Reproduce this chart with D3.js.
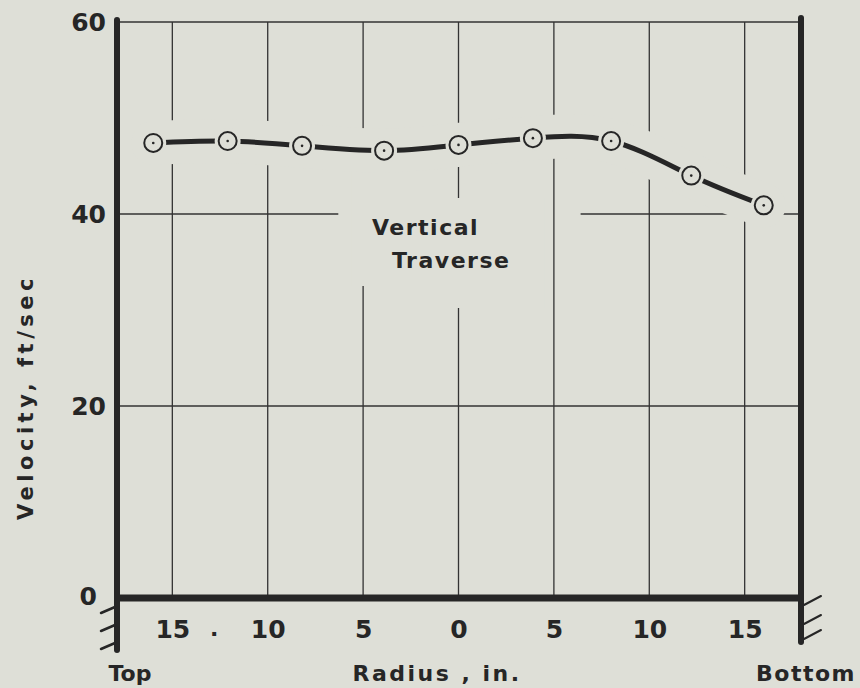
<!DOCTYPE html>
<html>
<head>
<meta charset="utf-8">
<script src="https://cdn.jsdelivr.net/npm/d3@7"></script>
<style>
  body { margin: 0; background: #dedfd7; }
  svg { display: block; }
  text { font-family: "DejaVu Sans", sans-serif; font-weight: bold; fill: #262626; }
</style>
</head>
<body>
<script>
// radius (in.), negative = toward top, positive = toward bottom
var radius = [-16, -12.1, -8.2, -3.9, 0, 3.9, 8, 12.2, 16];
var velocity = [47.4, 47.6, 47.1, 46.6, 47.2, 47.9, 47.6, 44.0, 40.9];
var xTicks = [-15, -10, -5, 0, 5, 10, 15];
var yTicks = [0, 20, 40, 60];

var W = 860, H = 688;
var bg = "#dedfd7", ink = "#262626";
var plotL = 117, plotR = 800, plotT = 22, plotB = 598;

var x = d3.scaleLinear().domain([-17.9, 17.9]).range([plotL, plotR]);
var y = d3.scaleLinear().domain([0, 60]).range([plotB, plotT]);

var svg = d3.select("body").append("svg")
    .attr("width", W)
    .attr("height", H);

// horizontal grid
svg.append("g")
    .selectAll("line")
    .data([20, 40])
    .enter().append("line")
    .attr("x1", plotL).attr("x2", plotR)
    .attr("y1", function (d) { return y(d); })
    .attr("y2", function (d) { return y(d); })
    .attr("stroke", "#333").attr("stroke-width", 1.3);

// gap in the 40 line round the label
svg.append("rect")
    .attr("x", x(-6.3)).attr("width", x(6.4) - x(-6.3))
    .attr("y", y(40) - 4).attr("height", 8)
    .attr("fill", bg);

// vertical grid
svg.append("g")
    .selectAll("line")
    .data(xTicks)
    .enter().append("line")
    .attr("x1", function (d) { return x(d); })
    .attr("x2", function (d) { return x(d); })
    .attr("y1", plotT).attr("y2", plotB)
    .attr("stroke", "#333").attr("stroke-width", 1.3);

// blank paper behind the label
svg.append("rect")
    .attr("x", x(-5.6)).attr("width", x(-4.2) - x(-5.6))
    .attr("y", 165).attr("height", 121)
    .attr("fill", bg);
svg.append("rect")
    .attr("x", x(-4.2)).attr("width", x(4.5) - x(-4.2))
    .attr("y", 198).attr("height", 110)
    .attr("fill", bg);

var line = d3.line()
    .x(function (d, i) { return x(radius[i]); })
    .y(function (d) { return y(d); })
    .curve(d3.curveNatural);

// erase grid along the curve
svg.append("path")
    .datum(velocity)
    .attr("d", line)
    .attr("fill", "none")
    .attr("stroke", bg)
    .attr("stroke-width", 44)
    .attr("stroke-linecap", "round");

svg.append("path")
    .datum(velocity)
    .attr("d", line)
    .attr("fill", "none")
    .attr("stroke", ink)
    .attr("stroke-width", 5)
    .attr("stroke-linecap", "round");

var pts = svg.append("g")
    .selectAll("g")
    .data(velocity)
    .enter().append("g")
    .attr("transform", function (d, i) { return "translate(" + x(radius[i]) + "," + y(d) + ")"; });
pts.append("circle").attr("r", 13).attr("fill", bg);
pts.append("circle").attr("r", 9).attr("fill", bg).attr("stroke", ink).attr("stroke-width", 2);
pts.append("circle").attr("r", 1.3).attr("fill", ink);

// frame
svg.append("line")
    .attr("x1", plotL).attr("x2", plotR).attr("y1", plotT).attr("y2", plotT)
    .attr("stroke", "#333").attr("stroke-width", 1.6);
svg.append("line")
    .attr("x1", plotL).attr("x2", plotR).attr("y1", plotB).attr("y2", plotB)
    .attr("stroke", ink).attr("stroke-width", 7);
svg.append("line")
    .attr("x1", plotL).attr("x2", plotL).attr("y1", plotT - 2).attr("y2", 650)
    .attr("stroke", ink).attr("stroke-width", 6).attr("stroke-linecap", "round");
svg.append("line")
    .attr("x1", plotR + 1).attr("x2", plotR + 1).attr("y1", plotT - 4).attr("y2", 642)
    .attr("stroke", ink).attr("stroke-width", 6).attr("stroke-linecap", "round");

// break marks
var leftMarks = [612, 630, 648];
svg.append("g").selectAll("line").data(leftMarks).enter().append("line")
    .attr("x1", plotL - 16).attr("x2", plotL - 2)
    .attr("y1", function (d) { return d + 1; })
    .attr("y2", function (d) { return d - 5; })
    .attr("stroke", ink).attr("stroke-width", 2.5).attr("stroke-linecap", "round");
var rightMarks = [605, 624, 639];
svg.append("g").selectAll("line").data(rightMarks).enter().append("line")
    .attr("x1", plotR + 4).attr("x2", plotR + 21)
    .attr("y1", function (d) { return d; })
    .attr("y2", function (d) { return d - 9; })
    .attr("stroke", ink).attr("stroke-width", 2).attr("stroke-linecap", "round");

// axes (labels only)
var yAxis = d3.axisLeft(y).tickValues(yTicks).tickSize(0).tickPadding(11);
var gy = svg.append("g")
    .attr("transform", "translate(" + plotL + ",0)")
    .call(yAxis);
var xAxis = d3.axisBottom(x).tickValues(xTicks).tickSize(0).tickPadding(22)
    .tickFormat(function (d) { return Math.abs(d); });
var gx = svg.append("g")
    .attr("transform", "translate(0," + plotB + ")")
    .call(xAxis);
[gx, gy].forEach(function (g) {
    g.select(".domain").remove();
    g.selectAll("text")
        .attr("fill", ink)
        .style("font-family", "'DejaVu Sans', sans-serif")
        .style("font-weight", "bold")
        .style("font-size", "25px");
});
gy.selectAll(".tick text").filter(function (d) { return d === 0; })
    .attr("x", -20).attr("dy", "0.25em");

svg.append("text")
    .attr("x", x(-12.8)).attr("y", 636)
    .attr("text-anchor", "middle")
    .style("font-size", "22px")
    .text(".");

// titles
svg.append("text")
    .attr("transform", "translate(33,397) rotate(-90)")
    .attr("text-anchor", "middle")
    .style("font-size", "21px")
    .style("letter-spacing", "4.5px")
    .text("Velocity, ft/sec");

svg.append("text")
    .attr("x", 130).attr("y", 681)
    .attr("text-anchor", "middle")
    .style("font-size", "22px")
    .text("Top");
svg.append("text")
    .attr("x", 437).attr("y", 681)
    .attr("text-anchor", "middle")
    .style("font-size", "22px")
    .style("letter-spacing", "2.5px")
    .text("Radius , in.");
svg.append("text")
    .attr("x", 806).attr("y", 681)
    .attr("text-anchor", "middle")
    .style("font-size", "22px")
    .style("letter-spacing", "1.5px")
    .text("Bottom");

svg.append("text")
    .attr("x", 372).attr("y", 235)
    .style("font-size", "22px")
    .style("letter-spacing", "1.5px")
    .text("Vertical");
svg.append("text")
    .attr("x", 392).attr("y", 268)
    .style("font-size", "22px")
    .style("letter-spacing", "1.5px")
    .text("Traverse");
</script>
</body>
</html>
